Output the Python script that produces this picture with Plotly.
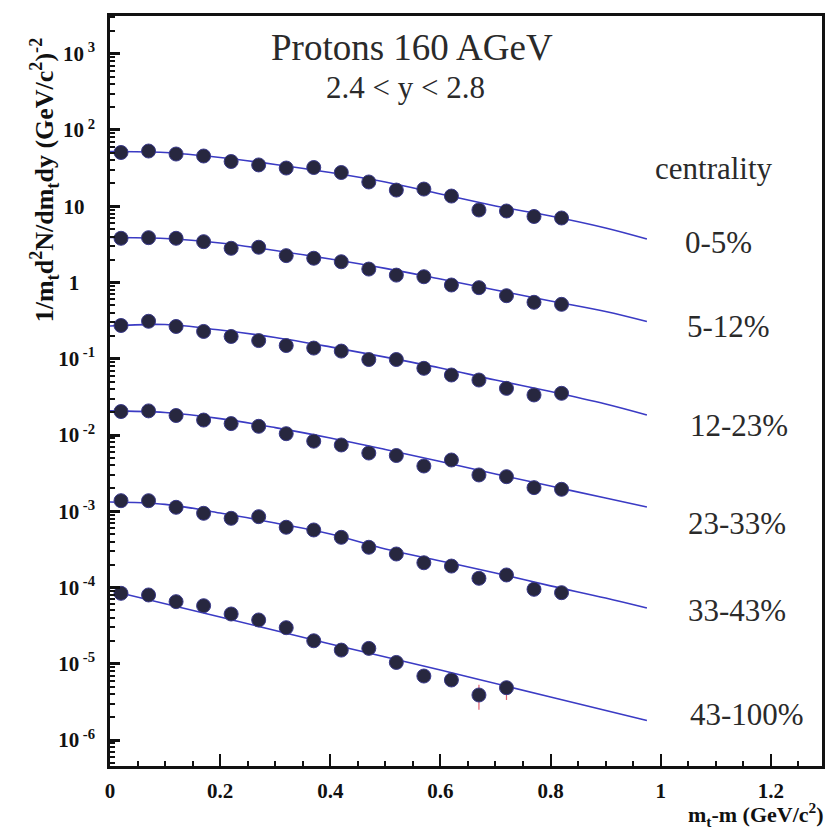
import plotly.graph_objects as go

# ---------------- data ----------------
x_pts = [0.02, 0.07, 0.12, 0.17, 0.22, 0.27, 0.32, 0.37, 0.42, 0.47,
         0.52, 0.57, 0.62, 0.67, 0.72, 0.77, 0.82]

y_0_5 = [50.7, 53.0, 48.4, 45.6, 38.6, 34.8, 31.7, 32.2, 27.7, 20.8,
         16.3, 16.8, 13.6, 8.93, 8.66, 7.34, 7.01]
y_5_12 = [3.80, 3.87, 3.80, 3.43, 2.81, 2.90, 2.25, 2.08, 1.87, 1.50,
          1.25, 1.19, 0.927, 0.855, 0.671, 0.550, 0.517]
y_12_23 = [0.273, 0.310, 0.265, 0.228, 0.196, 0.173, 0.149, 0.138, 0.126, 0.0977,
           0.0977, 0.0749, 0.0612, 0.0526, 0.0409, 0.0335, 0.0352]
y_23_33 = [0.0203, 0.0207, 0.0180, 0.0157, 0.0141, 0.0130, 0.0104, 0.0083, 0.0074, 0.0058,
           0.00538, 0.00392, 0.0047, 0.00299, 0.00284, 0.00204, 0.00194]
y_33_43 = [1.375e-3, 1.375e-3, 1.127e-3, 9.40e-4, 8.08e-4, 8.49e-4, 6.17e-4, 5.68e-4, 4.55e-4, 3.37e-4,
           2.75e-4, 2.11e-4, 1.91e-4, 1.32e-4, 1.46e-4, 9.47e-5, 8.55e-5]
x_pts_43_100 = [0.02, 0.07, 0.12, 0.17, 0.22, 0.27, 0.32, 0.37, 0.42, 0.47,
                0.52, 0.57, 0.62, 0.67, 0.72]
y_43_100 = [8.39e-5, 7.98e-5, 6.52e-5, 5.77e-5, 4.49e-5, 3.75e-5, 2.97e-5, 2.00e-5, 1.51e-5, 1.59e-5,
            1.04e-5, 6.90e-6, 6.12e-6, 3.89e-6, 4.85e-6]
err_up_43_100 = [0, 0, 0, 0, 0, 0, 0, 0, 0, 0, 0, 0, 0, 1.4e-6, 1.0e-6]
err_dn_43_100 = [0, 0, 0, 0, 0, 0, 0, 0, 0, 0, 0, 0, 0, 1.4e-6, 1.5e-6]

# fitted curves
x_fit = [0.0, 0.1, 0.2, 0.3, 0.4, 0.5, 0.6, 0.7, 0.8, 0.9, 0.975]
fit_0_5 = [52.2, 50.7, 43.6, 35.3, 27.7, 20.8, 14.5, 10.1, 7.45, 5.19, 3.72]
fit_5_12 = [3.89, 3.78, 3.30, 2.63, 2.03, 1.53, 1.11, 0.798, 0.572, 0.417, 0.308]
fit_12_23 = [0.269, 0.281, 0.238, 0.190, 0.143, 0.105, 0.0757, 0.0526, 0.0372, 0.0255, 0.0183]
fit_23_33 = [0.0207, 0.0197, 0.0164, 0.0125, 0.00914, 0.00646, 0.00449, 0.00308, 0.00214, 0.00149, 0.00114]
fit_33_43 = [1.32e-3, 1.23e-3, 9.48e-4, 7.01e-4, 5.03e-4, 3.20e-4, 2.23e-4, 1.55e-4, 1.05e-4, 7.28e-5, 5.38e-5]
x_fit6 = [0.0, 0.2, 0.4, 0.6, 0.8, 0.975]
fit_43_100 = [9.14e-5, 4.10e-5, 1.82e-5, 8.28e-6, 3.66e-6, 1.80e-6]

centrality_labels = ["0-5%", "5-12%", "12-23%", "23-33%", "33-43%", "43-100%"]

y_tick_vals = [1e3, 1e2, 1e1, 1, 1e-1, 1e-2, 1e-3, 1e-4, 1e-5, 1e-6]
y_tick_text = ["10<sup> 3</sup>", "10<sup> 2</sup>", "10&nbsp;&nbsp;", "1&nbsp;&nbsp;&nbsp;",
               "10<sup> -1</sup>", "10<sup> -2</sup>", "10<sup> -3</sup>", "10<sup> -4</sup>",
               "10<sup> -5</sup>", "10<sup> -6</sup>"]
y_minor_vals = [m * 10.0 ** k for k in range(-7, 4) for m in range(2, 10)]

# ---------------- styles ----------------
LINE_COLOR = "#3b3bc4"
MARKER_COLOR = "#27273f"
SERIF = "Liberation Serif"

fig = go.Figure()

fits = [(x_fit, fit_0_5), (x_fit, fit_5_12), (x_fit, fit_12_23),
        (x_fit, fit_23_33), (x_fit, fit_33_43), (x_fit6, fit_43_100)]
for xf, yf in fits:
    fig.add_trace(go.Scatter(x=xf, y=yf, mode="lines", line=dict(color=LINE_COLOR, width=1.6, shape="spline"),
                             showlegend=False, hoverinfo="skip"))

series = [(x_pts, y_0_5), (x_pts, y_5_12), (x_pts, y_12_23), (x_pts, y_23_33), (x_pts, y_33_43)]
for xs, ys in series:
    fig.add_trace(go.Scatter(x=xs, y=ys, mode="markers",
                             marker=dict(color=MARKER_COLOR, size=14, line=dict(color="#3a3a8a", width=1)),
                             showlegend=False))

fig.add_trace(go.Scatter(x=x_pts_43_100, y=y_43_100, mode="markers",
                         marker=dict(color=MARKER_COLOR, size=14, line=dict(color="#3a3a8a", width=1)),
                         error_y=dict(type="data", array=err_up_43_100, arrayminus=err_dn_43_100,
                                      color="#e06070", thickness=1.2, width=0),
                         showlegend=False))

fig.update_layout(
    width=831, height=834,
    margin=dict(l=110, r=6, t=16, b=68),
    paper_bgcolor="white", plot_bgcolor="white",
    font=dict(family=SERIF, color="#222"),
    xaxis=dict(range=[0, 1.293], tickmode="linear", tick0=0, dtick=0.2,
               ticks="inside", ticklen=12, tickwidth=2, tickcolor="#111",
               showline=True, linewidth=2.5, linecolor="#111", mirror=True,
               showgrid=False, zeroline=False,
               tickfont=dict(family=SERIF, size=21, color="#111", weight="bold"),
               ticklabelstandoff=4,
               minor=dict(dtick=0.05, ticks="inside", ticklen=5, tickwidth=2, tickcolor="#111", showgrid=False)),
    yaxis=dict(type="log", range=[-6.341, 3.495], tickmode="array",
               tickvals=y_tick_vals, ticktext=y_tick_text,
               ticks="inside", ticklen=10, tickwidth=2.5, tickcolor="#111",
               showline=True, linewidth=2.5, linecolor="#111", mirror=True,
               showgrid=False, zeroline=False,
               tickfont=dict(family=SERIF, size=21, color="#111", weight="bold"),
               ticklabelstandoff=8,
               minor=dict(tickmode="array", tickvals=y_minor_vals, ticks="inside", ticklen=5,
                          tickwidth=1.5, tickcolor="#111", showgrid=False)),
)

def px2paper_x(px):
    return (px - 110) / (825 - 110)

def px2paper_y(py):
    return (766 - py) / (766 - 16)

annos = [
    dict(text="Protons 160 AGeV", x=px2paper_x(413), y=px2paper_y(47), size=37),
    dict(text="2.4 < y < 2.8", x=px2paper_x(407), y=px2paper_y(87), size=31),
    dict(text="centrality", x=px2paper_x(717), y=px2paper_y(168), size=31),
]
for a in annos:
    fig.add_annotation(text=a["text"], xref="paper", yref="paper", x=a["x"], y=a["y"],
                       xanchor="center", yanchor="middle", showarrow=False,
                       font=dict(family=SERIF, size=a["size"], color="#2a2a2a"))

label_pos = [(685, 243), (687, 327), (690, 425), (688, 523), (688, 610), (690, 714)]
for lab, (lx, ly) in zip(centrality_labels, label_pos):
    fig.add_annotation(text=lab, xref="paper", yref="paper", x=px2paper_x(lx), y=px2paper_y(ly),
                       xanchor="left", yanchor="middle", showarrow=False,
                       font=dict(family=SERIF, size=31, color="#2a2a2a"))

fig.add_annotation(text="1/m<sub>t</sub>d<sup>2</sup>N/dm<sub>t</sub>dy (GeV/c<sup>2</sup>)<sup>-2</sup>",
                   xref="paper", yref="paper", x=px2paper_x(44), y=px2paper_y(180),
                   xanchor="center", yanchor="middle", textangle=-90, showarrow=False,
                   font=dict(family=SERIF, size=26, color="#111", weight="bold"))

fig.add_annotation(text="m<sub>t</sub>-m (GeV/c<sup>2</sup>)",
                   xref="paper", yref="paper", x=px2paper_x(829), y=px2paper_y(814),
                   xanchor="right", yanchor="middle", showarrow=False,
                   font=dict(family=SERIF, size=22, color="#111", weight="bold"))

fig.write_html("out.html")
